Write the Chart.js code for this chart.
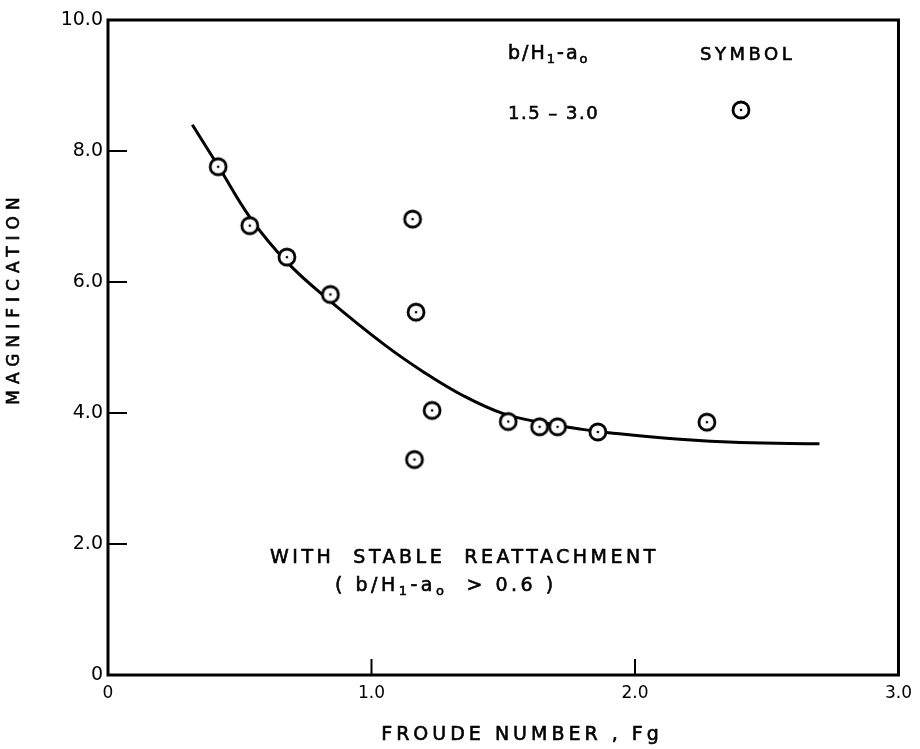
<!DOCTYPE html>
<html>
<head>
<meta charset="utf-8">
<script src="https://cdn.jsdelivr.net/npm/chart.js@4"></script>
<style>
html,body{margin:0;padding:0;background:#fff;}
#wrap{width:920px;height:749px;}
</style>
</head>
<body>
<div id="wrap"><canvas id="c" width="920" height="749"></canvas></div>
<script>
// ---- data ----
const froudeObs = [0.418, 0.538, 0.679, 0.844, 1.156, 1.169, 1.230, 1.163, 1.519, 1.638, 1.706, 1.859, 2.273];
const magnObs   = [7.76, 6.86, 6.38, 5.81, 6.96, 5.54, 4.04, 3.29, 3.87, 3.79, 3.79, 3.71, 3.86];
const curveX = [0.32, 0.42, 0.54, 0.68, 0.84, 1.05, 1.20, 1.35, 1.50, 1.65, 1.80, 1.90, 2.17, 2.40, 2.70];
const curveY = [8.40, 7.76, 6.98, 6.30, 5.72, 5.04, 4.62, 4.26, 3.99, 3.85, 3.75, 3.70, 3.60, 3.55, 3.53];
const xTickValues = [0, 1, 2, 3];
const xTickLabels = ['0', '1.0', '2.0', '3.0'];
const yTickValues = [0, 2, 4, 6, 8, 10];
const yTickLabels = ['0', '2.0', '4.0', '6.0', '8.0', '10.0'];
const xTitle = 'FROUDE NUMBER , Fg';
const yTitle = 'MAGNIFICATION';
// rich-text pieces: [text, isSubscript]
const legendHeadRatio = [['b/H', false], ['1', true], ['-a', false], ['o', true]];
const legendHeadSymbol = 'SYMBOL';
const legendRow = '1.5 \u2013 3.0';
const noteLine1 = 'WITH  STABLE  REATTACHMENT';
const noteLine2 = [['( b/H', false], ['1', true], ['-a', false], ['o', true], ['  > 0.6 )', false]];

const FONT = '"DejaVu Sans", sans-serif';

// circle-with-dot symbol
function makeSymbol() {
  const c = document.createElement('canvas');
  c.width = 22; c.height = 22;
  const g = c.getContext('2d');
  g.beginPath(); g.arc(11, 11, 8, 0, Math.PI * 2);
  g.fillStyle = '#fff'; g.fill();
  g.lineWidth = 2.8; g.strokeStyle = '#000'; g.stroke();
  g.beginPath(); g.arc(11, 11, 1.3, 0, Math.PI * 2);
  g.fillStyle = '#000'; g.fill();
  return c;
}
const sym = makeSymbol();

function txt(ctx, s, x, y) {
  ctx.fillText(s, x, y);
  ctx.strokeText(s, x, y);
}
function rich(ctx, parts, x, y, size, spacing) {
  let cx = x;
  parts.forEach(([s, sub]) => {
    const sz = sub ? Math.round(size * 0.7) : size;
    ctx.font = sz + 'px ' + FONT;
    ctx.letterSpacing = spacing + 'px';
    txt(ctx, s, cx, sub ? y + size * 0.3 : y);
    cx += ctx.measureText(s).width;
  });
}

const decor = {
  id: 'decor',
  afterDatasetsDraw(chart) {
    const {ctx, chartArea: a, scales} = chart;
    ctx.save();
    // frame
    ctx.strokeStyle = '#000'; ctx.lineWidth = 3;
    ctx.strokeRect(a.left, a.top, a.right - a.left, a.bottom - a.top);
    // inward ticks
    ctx.lineWidth = 2;
    xTickValues.slice(1, -1).forEach(v => {
      const px = scales.x.getPixelForValue(v);
      ctx.beginPath(); ctx.moveTo(px, a.bottom); ctx.lineTo(px, a.bottom - 16); ctx.stroke();
    });
    yTickValues.slice(1, -1).forEach(v => {
      const py = scales.y.getPixelForValue(v);
      ctx.beginPath(); ctx.moveTo(a.left, py); ctx.lineTo(a.left + 19, py); ctx.stroke();
    });
    ctx.fillStyle = '#000';
    ctx.strokeStyle = '#000';
    ctx.lineWidth = 0.6;
    ctx.textBaseline = 'middle';
    // axis titles
    ctx.font = '19px ' + FONT;
    ctx.letterSpacing = '4px';
    ctx.textAlign = 'center';
    txt(ctx, xTitle, 522, 735);
    ctx.save();
    ctx.translate(15, 298); ctx.rotate(-Math.PI / 2);
    ctx.font = '17px ' + FONT;
    ctx.letterSpacing = '6px';
    txt(ctx, yTitle, 0, 0);
    ctx.restore();
    // legend
    ctx.textAlign = 'left';
    rich(ctx, legendHeadRatio, 508, 54, 19, 2);
    ctx.font = '18px ' + FONT;
    ctx.letterSpacing = '3.5px';
    txt(ctx, legendHeadSymbol, 700, 55);
    ctx.letterSpacing = '1.5px';
    txt(ctx, legendRow, 508, 114);
    ctx.drawImage(sym, 741 - 11, 110 - 11);
    // note
    ctx.font = '19px ' + FONT;
    ctx.letterSpacing = '3.5px';
    txt(ctx, noteLine1, 270, 558);
    rich(ctx, noteLine2, 335, 586, 19, 3.5);
    ctx.restore();
  }
};

new Chart(document.getElementById('c'), {
  type: 'scatter',
  data: {
    datasets: [
      {
        label: 'observed',
        data: froudeObs.map((x, i) => ({x, y: magnObs[i]})),
        pointStyle: sym,
        pointRadius: 10,
        showLine: false
      },
      {
        label: 'fit',
        data: curveX.map((x, i) => ({x, y: curveY[i]})),
        showLine: true,
        borderColor: '#000',
        borderWidth: 3,
        pointRadius: 0,
        tension: 0.4,
        fill: false
      }
    ]
  },
  plugins: [decor],
  options: {
    responsive: false,
    animation: false,
    events: [],
    layout: {padding: {left: 0, right: 20, top: 20, bottom: 0}},
    plugins: {legend: {display: false}, tooltip: {enabled: false}},
    scales: {
      x: {
        type: 'linear', min: 0, max: 3,
        afterBuildTicks: s => { s.ticks = xTickValues.map(v => ({value: v})); },
        afterFit: s => { s.height = 74; },
        grid: {display: false, drawTicks: false},
        border: {display: false},
        ticks: {
          padding: 8, color: '#000', font: {family: FONT, size: 17},
          callback: v => xTickLabels[xTickValues.indexOf(v)]
        }
      },
      y: {
        type: 'linear', min: 0, max: 10,
        afterBuildTicks: s => { s.ticks = yTickValues.map(v => ({value: v})); },
        afterFit: s => { s.width = 108; },
        grid: {display: false, drawTicks: false},
        border: {display: false},
        ticks: {
          padding: 5, color: '#000', font: {family: FONT, size: 19},
          callback: v => yTickLabels[yTickValues.indexOf(v)]
        }
      }
    }
  }
});
</script>
</body>
</html>
